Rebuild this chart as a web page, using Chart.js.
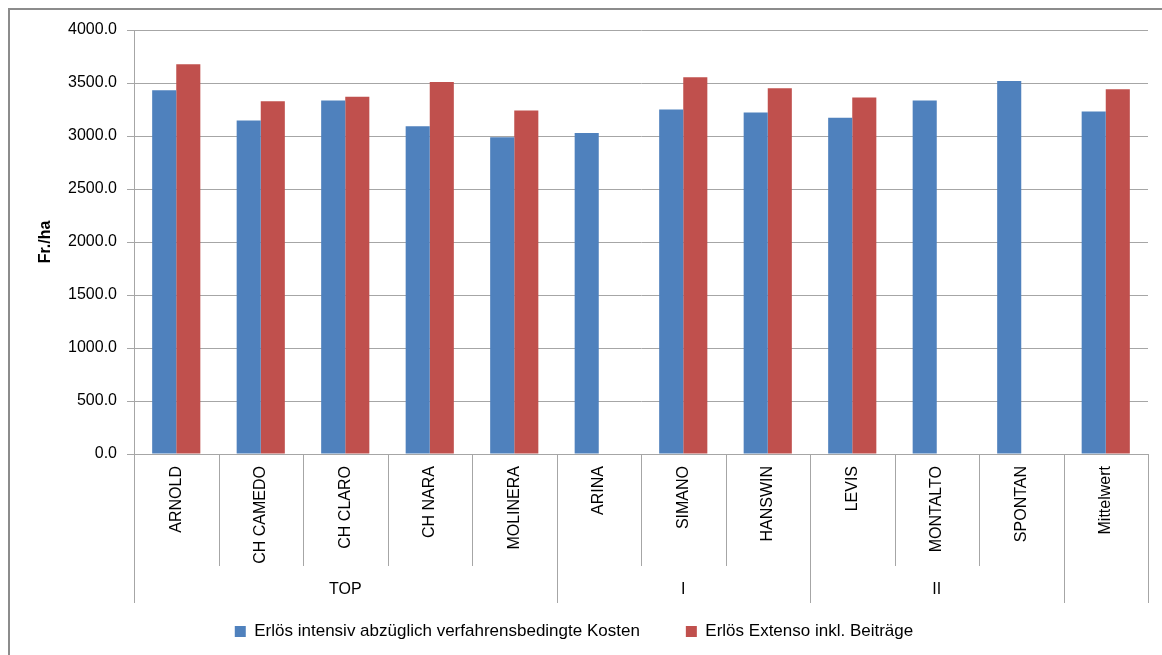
<!DOCTYPE html>
<html>
<head>
<meta charset="utf-8">
<script src="https://cdn.jsdelivr.net/npm/chart.js@4"></script>
<style>
    html, body { margin: 0; padding: 0; background: #fff; }
    #wrap { position: relative; width: 1162px; height: 655px; }
</style>
</head>
<body>
<div id="wrap"><canvas id="chart" width="1162" height="655"></canvas></div>
<script>
// Sorten und Gruppen
const categories = ['ARNOLD', 'CH CAMEDO', 'CH CLARO', 'CH NARA', 'MOLINERA', 'ARINA',
    'SIMANO', 'HANSWIN', 'LEVIS', 'MONTALTO', 'SPONTAN', 'Mittelwert'];
const groupLabels = ['TOP', 'I', 'II', ''];
const groupSizes = [5, 3, 3, 1];

// Werte in Fr./ha
const intensivValues = [3431, 3146, 3336, 3092, 2988, 3029, 3250, 3222, 3171, 3336, 3519, 3231];
const extensoValues = [3677, 3329, 3370, 3509, 3241, null, 3554, 3450, 3364, null, null, 3440];

const yTicks = [0, 500, 1000, 1500, 2000, 2500, 3000, 3500, 4000];

const FONT = 'Liberation Sans, Arial, sans-serif';
const GRID = '#a6a6a6';

// draws the outer frame, the category separators and the group row
const groupAxisPlugin = {
    id: 'groupAxis',
    afterDraw(chart) {
        const ctx = chart.ctx;
        const x = chart.scales.x;
        const area = chart.chartArea;
        const step = x.getPixelForValue(1) - x.getPixelForValue(0);

        ctx.save();
        // outer frame (right and bottom edge are cut off in the original)
        ctx.strokeStyle = '#8c8c8c';
        ctx.lineWidth = 2;
        ctx.beginPath();
        ctx.moveTo(9, 655);
        ctx.lineTo(9, 9);
        ctx.lineTo(1162, 9);
        ctx.stroke();

        // separators
        const groupEnds = [0];
        groupSizes.reduce((acc, n) => { groupEnds.push(acc + n); return acc + n; }, 0);
        ctx.strokeStyle = GRID;
        ctx.lineWidth = 1;
        for (let i = 0; i <= categories.length; i++) {
            const px = Math.round(x.getPixelForValue(0) - step / 2 + i * step) + 0.5;
            const bottom = groupEnds.includes(i) ? 603 : 566;
            ctx.beginPath();
            ctx.moveTo(px, area.bottom);
            ctx.lineTo(px, bottom);
            ctx.stroke();
        }

        // group labels
        ctx.fillStyle = '#000';
        ctx.font = '16px ' + FONT;
        ctx.textAlign = 'center';
        ctx.textBaseline = 'middle';
        groupLabels.forEach((label, g) => {
            const start = x.getPixelForValue(0) - step / 2 + groupEnds[g] * step;
            const end = x.getPixelForValue(0) - step / 2 + groupEnds[g + 1] * step;
            ctx.fillText(label, (start + end) / 2, 590);
        });
        ctx.restore();
    }
};

const ctx = document.getElementById('chart').getContext('2d');
new Chart(ctx, {
    type: 'bar',
    data: {
        labels: categories,
        datasets: [{
            label: 'Erlös intensiv abzüglich verfahrensbedingte Kosten',
            data: intensivValues,
            backgroundColor: '#4f81bd'
        }, {
            label: 'Erlös Extenso inkl. Beiträge',
            data: extensoValues,
            backgroundColor: '#c0504d'
        }]
    },
    options: {
        responsive: false,
        animation: false,
        devicePixelRatio: 1,
        layout: {
            padding: { left: 0, top: 30, right: 14, bottom: 5 }
        },
        datasets: {
            bar: {
                categoryPercentage: 0.57,
                barPercentage: 1
            }
        },
        plugins: {
            tooltip: { enabled: false },
            legend: {
                position: 'bottom',
                labels: {
                    font: { family: FONT, size: 17 },
                    color: '#000',
                    boxWidth: 11,
                    boxHeight: 11,
                    padding: 46
                }
            }
        },
        scales: {
            x: {
                grid: { display: false, drawTicks: false },
                border: { display: true, color: GRID },
                ticks: {
                    autoSkip: false,
                    minRotation: 90,
                    maxRotation: 90,
                    padding: 12,
                    color: '#000',
                    font: { family: FONT, size: 16 }
                },
                afterFit(scale) { scale.height = 123; }
            },
            y: {
                min: 0,
                max: 4000,
                afterBuildTicks(scale) {
                    scale.ticks = yTicks.map(v => ({ value: v }));
                },
                grid: { color: GRID, tickLength: 7 },
                border: { display: true, color: GRID },
                ticks: {
                    padding: 10,
                    color: '#000',
                    font: { family: FONT, size: 16 },
                    callback: v => v.toFixed(1)
                },
                title: {
                    display: true,
                    text: 'Fr./ha',
                    color: '#000',
                    font: { family: FONT, size: 16, weight: 'bold' },
                    padding: { top: 36, bottom: 0 }
                },
                afterFit(scale) { scale.width = 134; }
            }
        }
    },
    plugins: [groupAxisPlugin]
});
</script>
</body>
</html>
